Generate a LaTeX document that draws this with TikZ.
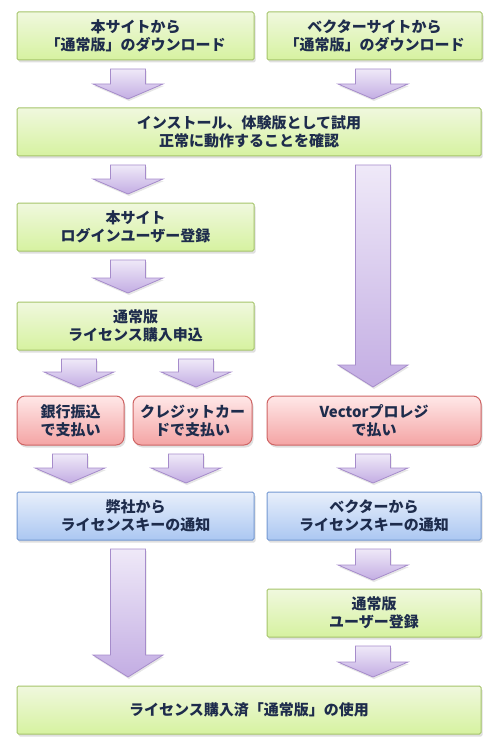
\documentclass[tikz,border=0pt]{standalone}
\usepackage{fontspec}
\setmainfont{Noto Sans CJK JP}
\usetikzlibrary{calc,shadows}
\definecolor{txt}{HTML}{1E2C4C}
\definecolor{gtop}{HTML}{F0F8DE}
\definecolor{gbot}{HTML}{D6F2A0}
\definecolor{gline}{HTML}{A5C46A}
\definecolor{rtop}{HTML}{FFE8E8}
\definecolor{rbot}{HTML}{F4A4A4}
\definecolor{rline}{HTML}{CF6464}
\definecolor{btop}{HTML}{E8EFFB}
\definecolor{bbot}{HTML}{ABC7F2}
\definecolor{bline}{HTML}{7398D2}
\definecolor{atop}{HTML}{EFE9F8}
\definecolor{abot}{HTML}{C3ADE3}
\definecolor{aline}{HTML}{A68CCB}
\newcommand\blockarrow[4]{%
  \path[barrow] let \p1=(#2.south), \p2=(#3.north) in
    (#1pt-17.5pt,\y1-9pt) -- (#1pt+17.5pt,\y1-9pt) -- (#1pt+17.5pt,\y2+9pt+#4pt)
    -- (#1pt+35pt,\y2+9pt+#4pt) -- (#1pt,\y2+9pt) -- (#1pt-35pt,\y2+9pt+#4pt)
    -- (#1pt-17.5pt,\y2+9pt+#4pt) -- cycle;}
\begin{document}
\begin{tikzpicture}[x=1pt,y=-1pt,
  box/.style={draw, line width=1pt, outer sep=0pt, inner sep=0pt, align=center,
    font=\fontsize{15}{18}\selectfont\bfseries, text=txt,
    drop shadow={opacity=0.25, shadow xshift=1.5pt, shadow yshift=-2.5pt}},
  gbox/.style={box, draw=gline, top color=gtop, bottom color=gbot, rounded corners=1.5pt},
  rbox/.style={box, draw=rline, top color=rtop, bottom color=rbot, rounded corners=8pt},
  bbox/.style={box, draw=bline, top color=btop, bottom color=bbot, rounded corners=1.5pt},
  barrow/.style={draw=aline, line width=0.8pt, top color=atop, bottom color=abot,
    drop shadow={opacity=0.2, shadow xshift=1pt, shadow yshift=-2pt}}]
\useasboundingbox (0,0) rectangle (500,754);
\node[gbox, minimum width=237pt, minimum height=48pt] (A) at (135.5,36) {本サイトから\\「通常版」のダウンロード};
\node[gbox, minimum width=215pt, minimum height=48pt] (B) at (374.5,36) {ベクターサイトから\\「通常版」のダウンロード};
\node[gbox, minimum width=464pt, minimum height=48pt] (C) at (249,132) {インストール、体験版として試用\\正常に動作することを確認};
\node[gbox, minimum width=237pt, minimum height=48pt] (D) at (135.5,227) {本サイト\\ログインユーザー登録};
\node[gbox, minimum width=237pt, minimum height=48pt] (E) at (135.5,326) {通常版\\ライセンス購入申込};
\node[rbox, minimum width=107pt, minimum height=49pt] (F) at (70.5,420.5) {銀行振込\\で支払い};
\node[rbox, minimum width=119pt, minimum height=49pt] (G) at (192.5,420.5) {クレジットカー\\ドで支払い};
\node[rbox, minimum width=214pt, minimum height=49pt] (H) at (374,420.5) {Vectorプロレジ\\で払い};
\node[bbox, minimum width=237pt, minimum height=48pt] (I) at (135.5,516) {弊社から\\ライセンスキーの通知};
\node[bbox, minimum width=214pt, minimum height=48pt] (J) at (374,516) {ベクターから\\ライセンスキーの通知};
\node[gbox, minimum width=214pt, minimum height=48pt] (K) at (374,613) {通常版\\ユーザー登録};
\node[gbox, minimum width=464pt, minimum height=48pt] (L) at (249,710) {ライセンス購入済「通常版」の使用};
\blockarrow{128}{A}{C}{15}
\blockarrow{373}{B}{C}{15}
\blockarrow{128}{C}{D}{15}
\blockarrow{373}{C}{H}{22}
\blockarrow{128}{D}{E}{15}
\blockarrow{79}{E}{F}{15}
\blockarrow{196}{E}{G}{15}
\blockarrow{70}{F}{I}{15}
\blockarrow{186}{G}{I}{15}
\blockarrow{373}{H}{J}{15}
\blockarrow{128}{I}{L}{22}
\blockarrow{373}{J}{K}{15}
\blockarrow{373}{K}{L}{15}
\end{tikzpicture}
\end{document}
